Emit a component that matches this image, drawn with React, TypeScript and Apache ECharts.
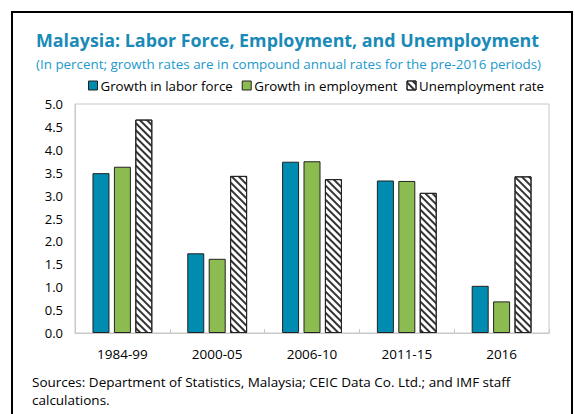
import React, { useEffect, useRef } from "react";
import * as echarts from "echarts";

const categories = ["1984-99", "2000-05", "2006-10", "2011-15", "2016"];
const laborForce = [3.49, 1.74, 3.74, 3.33, 1.03];
const employment = [3.63, 1.62, 3.75, 3.32, 0.69];
const unemployment = [4.66, 3.43, 3.36, 3.06, 3.42];
const seriesNames = ["Growth in labor force", "Growth in employment", "Unemployment rate"];
const titleText = "Malaysia: Labor Force, Employment, and Unemployment";
const subtitleText = "(In percent; growth rates are in compound annual rates for the pre-2016 periods)";
const sourceText = "Sources: Department of Statistics, Malaysia; CEIC Data Co. Ltd.; and IMF staff\ncalculations.";

const FONT = "'Open Sans', 'Noto Sans', sans-serif";

export default function App() {
  const ref = useRef<HTMLDivElement>(null);
  useEffect(() => {
    if (!ref.current) return;
    const chart = echarts.init(ref.current, null, { renderer: "svg" });
    const barBase = { type: "bar" as const, barWidth: 17, barGap: "26%" };
    chart.setOption({
      animation: false,
      textStyle: { fontFamily: FONT },
      title: [
        {
          text: titleText,
          left: 36,
          top: 31,
          padding: 0,
          textStyle: { fontSize: 17.85, fontWeight: "bold", color: "#1a8ab7", fontFamily: FONT },
        },
        {
          text: subtitleText,
          left: 36,
          top: 57,
          padding: 0,
          textStyle: { fontSize: 13.4, fontWeight: "normal", color: "#2299cc", fontFamily: FONT },
        },
      ],
      legend: {
        left: 88,
        top: 79,
        padding: 0,
        itemWidth: 9,
        itemHeight: 9,
        itemGap: 9,
        icon: "rect",
        itemStyle: { borderColor: "#222", borderWidth: 1 },
        textStyle: { fontSize: 13.3, color: "#000", fontFamily: FONT, padding: [0, 0, 0, -2] },
        data: seriesNames,
      },
      grid: {
        left: 75,
        right: 26,
        top: 104,
        bottom: 81,
        show: true,
        borderColor: "#c8c8c8",
        borderWidth: 1,
      },
      xAxis: {
        type: "category",
        data: categories,
        axisLine: { lineStyle: { color: "#c8c8c8" } },
        axisTick: { show: true, inside: true, length: 4, lineStyle: { color: "#c8c8c8" } },
        axisLabel: { fontSize: 13.5, color: "#000", margin: 14, fontFamily: FONT },
      },
      yAxis: {
        type: "value",
        min: 0,
        max: 5,
        interval: 0.5,
        splitLine: { show: false },
        axisLine: { show: true, lineStyle: { color: "#c8c8c8" } },
        axisTick: { show: false },
        axisLabel: {
          fontSize: 13,
          color: "#000",
          margin: 12,
          fontFamily: FONT,
          formatter: (v: number) => v.toFixed(1),
        },
      },
      series: [
        {
          ...barBase,
          name: seriesNames[0],
          data: laborForce,
          itemStyle: { color: "#008bb0", borderColor: "#222", borderWidth: 1 },
        },
        {
          ...barBase,
          name: seriesNames[1],
          data: employment,
          itemStyle: { color: "#8cbc50", borderColor: "#222", borderWidth: 1 },
        },
        {
          ...barBase,
          name: seriesNames[2],
          data: unemployment,
          itemStyle: {
            color: "#ffffff",
            borderColor: "#222",
            borderWidth: 1,
            decal: {
              symbol: "rect",
              symbolSize: 1,
              color: "#333",
              dashArrayX: [1, 0],
              dashArrayY: [1.5, 2.6],
              rotation: Math.PI / 4,
            },
          },
        },
      ],
      graphic: [
        {
          type: "rect",
          shape: { x: 12, y: 12, width: 560, height: 430 },
          style: { fill: "none", stroke: "#000", lineWidth: 2 },
          silent: true,
        },
        {
          type: "text",
          x: 32,
          y: 373,
          style: {
            text: sourceText,
            fontSize: 13.5,
            lineHeight: 18,
            fill: "#000",
            fontFamily: FONT,
          },
        },
      ],
    });
    return () => chart.dispose();
  }, []);
  return (
    <div
      ref={ref}
      style={{ position: "fixed", left: 0, top: 0, width: 575, height: 414, background: "#fff" }}
    />
  );
}
